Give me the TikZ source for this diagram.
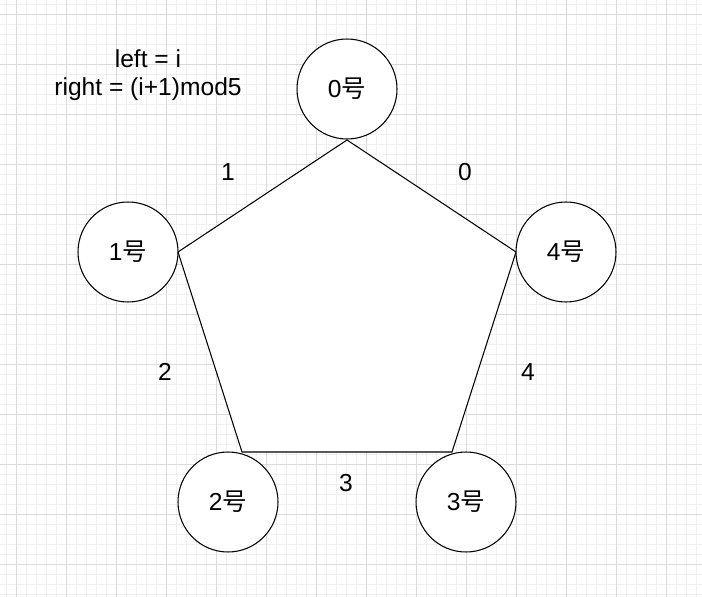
\documentclass[tikz,border=0pt]{standalone}
\usepackage{fontspec}
\setmainfont{Liberation Sans}
\newfontfamily\cjk{Noto Sans CJK SC}
\usepackage{tikz}
\newcommand{\hao}[1]{#1{\cjk 号}}

\begin{document}
\begin{tikzpicture}[x=0.02cm,y=-0.02cm,semithick,
                    font=\fontsize{14}{16}\selectfont]
  \tikzstyle{minorgrid}=[draw=black!6,line width=0.5pt]
  \tikzstyle{majorgrid}=[draw=black!14,line width=0.5pt]
  \tikzstyle{phil}=[circle,draw=black,fill=white,minimum size=2cm,inner sep=0pt]

  \useasboundingbox (0,0) rectangle (702,597);
  \fill[white] (0,0) rectangle (702,597);
  % grid
  \foreach \x in {6.7,16.7,...,702} \draw[minorgrid] (\x,0) -- (\x,597);
  \foreach \y in {4.3,14.3,...,597} \draw[minorgrid] (0,\y) -- (702,\y);
  \foreach \x in {16.7,66.7,...,702} \draw[majorgrid] (\x,0) -- (\x,597);
  \foreach \y in {14.3,64.3,...,597} \draw[majorgrid] (0,\y) -- (702,\y);

  % pentagon corners
  \coordinate (c0) at (347,140);
  \coordinate (c1) at (178,252);
  \coordinate (c2) at (242,452);
  \coordinate (c3) at (452,452);
  \coordinate (c4) at (516,252);
  \filldraw[fill=white] (c0) -- (c4) -- (c3) -- (c2) -- (c1) -- cycle;

  \node[phil] (ph0) at (347,89)  {\hao{0}};
  \node[phil] (ph1) at (128,252) {\hao{1}};
  \node[phil] (ph2) at (228,502) {\hao{2}};
  \node[phil] (ph3) at (466,502) {\hao{3}};
  \node[phil] (ph4) at (566,252) {\hao{4}};

  \node (f0) at (465,172) {0};
  \node (f1) at (228,172) {1};
  \node (f2) at (165,372) {2};
  \node (f3) at (346,483) {3};
  \node (f4) at (528,372) {4};

  \node[align=center] (rule) at (148,75) {left = i\\right = (i+1)mod5};
\end{tikzpicture}
\end{document}
